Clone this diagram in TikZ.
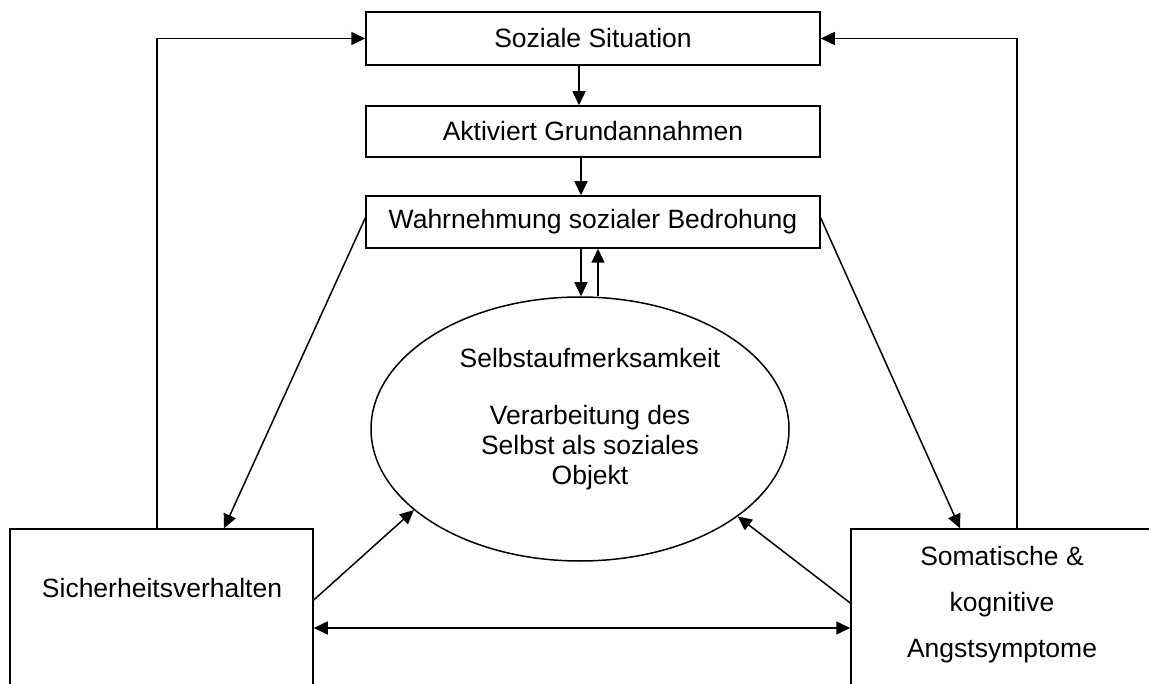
\documentclass[tikz,border=0pt]{standalone}
\usepackage{fontspec}
\setmainfont{Liberation Sans}
\usetikzlibrary{arrows.meta,shapes.geometric}
\begin{document}
\begin{tikzpicture}[x=1pt,y=-1pt,
  every node/.style={font=\fontsize{26.5}{30.5}\selectfont},
  boxnode/.style={draw,line width=1.5pt,rectangle,inner sep=0pt},
  ellnode/.style={draw,line width=1.5pt,ellipse,inner sep=0pt,minimum width=418pt,minimum height=264pt},
  txt/.style={inner sep=0pt,align=center},
  arr/.style={line width=1.5pt,-{Triangle[length=14pt,width=13pt]}},
  dblarr/.style={line width=1.5pt,{Triangle[length=14pt,width=13pt]}-{Triangle[length=14pt,width=13pt]}},
  ln/.style={line width=1.5pt}]
\useasboundingbox (0,0) rectangle (1149,684);
\clip (0,0) rectangle (1149,684);
\fill[white] (0,0) rectangle (1149,684);

\node[boxnode,minimum width=454pt,minimum height=53pt] (soz) at (593,38.5) {Soziale Situation};
\node[boxnode,minimum width=454pt,minimum height=51pt] (akt) at (593,131.5) {Aktiviert Grundannahmen};
\node[boxnode,minimum width=454pt,minimum height=52pt] (wahr) at (593,222) {Wahrnehmung sozialer Bedrohung};
\node[ellnode] (ell) at (580,429) {};
\node[txt,anchor=base] (elltxt) at (590,485) {Selbstaufmerksamkeit\\[25.5pt]Verarbeitung des\\Selbst als soziales\\Objekt};

\node[boxnode,minimum width=303pt,minimum height=231pt] (sich) at (161.5,644.5) {};
\node[txt,anchor=base] (sichtxt) at (162,597) {Sicherheitsverhalten};
\node[boxnode,minimum width=302pt,minimum height=231pt] (som) at (1002,644.5) {};
\node[txt,anchor=base,font=\fontsize{26.5}{46}\selectfont] (somtxt) at (1002,657) {Somatische \&\\kognitive\\Angstsymptome};

% vertical chain
\draw[arr] (soz.south -| 579,0) -- (akt.north -| 579,0);
\draw[arr] (akt.south -| 581,0) -- (wahr.north -| 581,0);
\draw[arr] (wahr.south -| 581,0) -- (ell.north -| 581,0);
\draw[arr] (ell.north -| 598,0) -- (wahr.south -| 598,0);

% diagonals from Wahrnehmung
\draw[arr] (wahr.west |- 0,218) -- (sich.north -| 224,0);
\draw[arr] (wahr.east |- 0,218) -- (som.north -| 960,0);

% feedback loops to Soziale Situation
\draw[arr] (sich.north -| 157,0) |- (soz.west);
\draw[arr] (som.north -| 1017,0) |- (soz.east);

% to ellipse
\draw[arr] (sich.east |- 0,600) -- (ell.206);
\draw[arr] (som.west |- 0,603) -- (ell.331);

% double arrow
\draw[dblarr] (sich.east |- 0,628) -- (som.west |- 0,628);
\end{tikzpicture}
\end{document}
